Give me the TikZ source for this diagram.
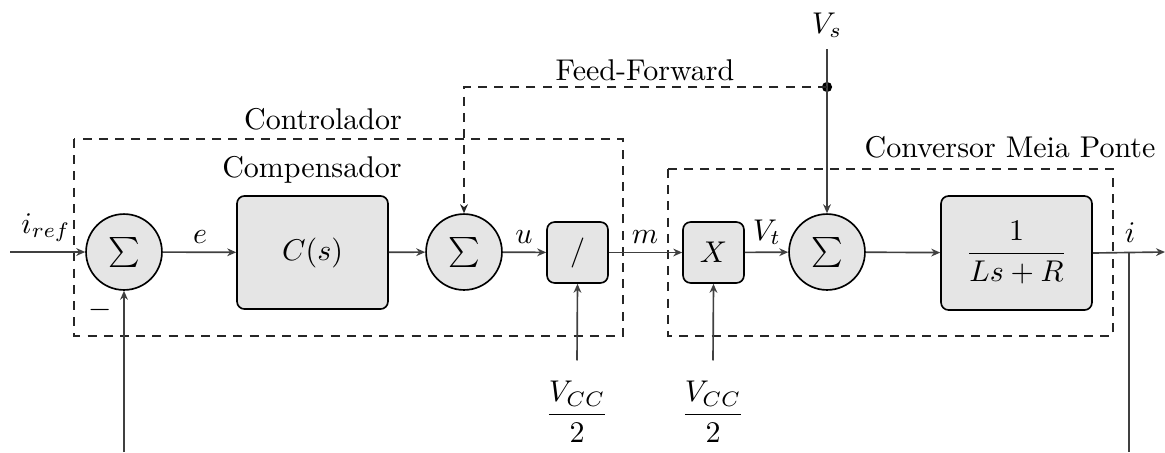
\documentclass[tikz,border=0pt]{standalone}
\usepackage{amsmath}
\usetikzlibrary{arrows.meta}
\begin{document}
\begin{tikzpicture}[x=0.3333pt,y=-0.3333pt,
  line width=0.55pt,
  >={Stealth[length=3pt,width=2.6pt]},
  sumnode/.style={circle,draw=black,fill=black!10,minimum size=25.3pt,inner sep=0pt},
  blk/.style={draw=black,fill=black!10,rounded corners=2.5pt,inner sep=0pt},
  sig/.style={draw=black!75,->},
  grp/.style={draw=black!85,dashed,dash pattern=on 3pt off 2.4pt},
  lbl/.style={anchor=base,inner sep=0pt}]
\useasboundingbox (0,0) rectangle (1165,452);
% group boxes
\draw[grp] (74,139) rectangle (623,336);
\draw[grp] (668,169) rectangle (1113,336);
% blocks
\node[sumnode] (s1) at (124,252) {$\sum$};
\node[blk,minimum width=50.3pt,minimum height=37.7pt] (cs) at (312.5,252.5) {$C(s)$};
\node[sumnode] (s2) at (464,252) {$\sum$};
\node[blk,minimum width=20.3pt,minimum height=20.3pt] (dv) at (577.5,252.5) {$/$};
\node[blk,minimum width=20.3pt,minimum height=20.3pt] (mx) at (713.5,252.5) {$X$};
\node[sumnode] (s3) at (827,252) {$\sum$};
\node[blk,minimum width=50.3pt,minimum height=38pt] (pl) at (1016.5,253) {$\dfrac{1}{Ls+R}$};
% inputs / outputs
\coordinate (in) at (10,252);
\coordinate (out) at (1165,252);
\coordinate (br) at (1129,252);
\coordinate (fbr) at (1129,452);
\coordinate (fbl) at (124,452);
\node (vcc1) at (577,412) {$\dfrac{V_{CC}}{2}$};
\node (vcc2) at (713,412) {$\dfrac{V_{CC}}{2}$};
\node[lbl] (vs) at (827,33) {$V_s$};
\coordinate (vstop) at (827,49);
\fill[black] (827,87) circle (1.7pt);
\coordinate (dot) at (827,87);
\coordinate (ffc) at (464,87);
% connectors
\draw[sig] (in) -- (s1);
\draw[sig] (s1) -- (cs);
\draw[sig] (cs) -- (s2);
\draw[sig] (s2) -- (dv);
\draw[sig] (dv) -- (mx);
\draw[sig] (mx) -- (s3);
\draw[sig] (s3) -- (pl);
\draw[sig] (pl.east) -- (out);
\draw[draw=black!75] (br) -- (fbr);
\draw[sig] (fbl) -- (s1.south);
\draw[sig] (vcc1.north) ++(0,-10) coordinate (v1t) -- (dv.south);
\draw[sig] (vcc2.north) ++(0,-10) coordinate (v2t) -- (mx.south);
\draw[sig] (vstop) -- (s3.north);
\draw[grp,->] (dot) -- (ffc) -- (s2.north);
% labels
\node[lbl] (lref) at (46,233) {$i_{ref}$};
\node[lbl] (le) at (200,243) {$e$};
\node[lbl] (lu) at (524,243) {$u$};
\node[lbl] (lm) at (645,243) {$m$};
\node[lbl] (lvt) at (767,240) {$V_t$};
\node[lbl] (li) at (1130,242) {$i$};
\node (lminus) at (100,310) {$-$};
\node[lbl] (lff) at (645,80) {Feed-Forward};
\node[lbl] (lctl) at (323,129) {Controlador};
\node[lbl] (lcmp) at (312,177) {Compensador};
\node[lbl] (lconv) at (1010,157) {Conversor Meia Ponte};
\end{tikzpicture}
\end{document}
